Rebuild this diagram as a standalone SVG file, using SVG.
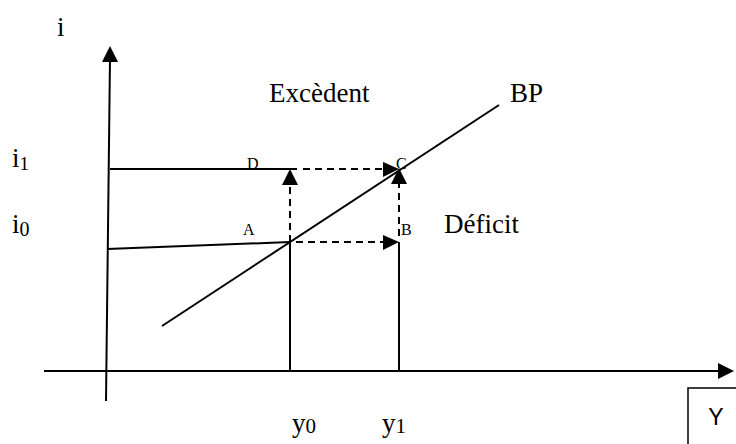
<svg xmlns="http://www.w3.org/2000/svg" width="736" height="444" viewBox="0 0 736 444">
<style>
.ln{stroke:#000;stroke-width:2;fill:none}
.ds{stroke:#000;stroke-width:2;fill:none;stroke-dasharray:7 5}
.ah{fill:#000}
.t{font-family:"Liberation Serif","Times New Roman",serif;fill:#000}
.s{font-family:"Liberation Sans",Arial,sans-serif;fill:#000}
</style>
<rect width="736" height="444" fill="#fff"/>
<g id="axes">
<line class="ln" x1="106" y1="401" x2="110" y2="58"/>
<polygon class="ah" points="110,46 102,62 118,62"/>
<line class="ln" x1="44" y1="371" x2="720" y2="371"/>
<polygon class="ah" points="734,371 718,363 718,379"/>
</g>
<g id="connectors">
<line class="ln" x1="110" y1="169" x2="297" y2="169"/>
<line class="ds" x1="303" y1="169" x2="384" y2="169"/>
<polygon class="ah" points="399,169 383,162 383,177"/>
<line class="ln" x1="107" y1="249" x2="290" y2="242"/>
<line class="ds" x1="296" y1="242" x2="384" y2="242"/>
<polygon class="ah" points="399,242 383,235 383,250"/>
<line class="ds" x1="290" y1="242" x2="290" y2="184"/>
<polygon class="ah" points="290,169 282,185 298,185"/>
<line class="ds" x1="399" y1="236" x2="399" y2="184"/>
<polygon class="ah" points="399,168 391,184 407,184"/>
<line class="ln" x1="290" y1="242" x2="290" y2="371"/>
<line class="ln" x1="399" y1="242" x2="399" y2="371"/>
<line class="ln" x1="162" y1="326" x2="499" y2="105"/>
</g>
<g id="labels">
<text class="t" x="57" y="36" font-size="27">i</text>
<text class="t" x="12" y="167" font-size="27">i<tspan font-size="19" dy="3">1</tspan></text>
<text class="t" x="12" y="233" font-size="27">i<tspan font-size="20" dy="3">0</tspan></text>
<text class="t" x="269" y="102" font-size="27">Excèdent</text>
<text class="t" x="510" y="102" font-size="27">BP</text>
<text class="t" x="444" y="233" font-size="27">Déficit</text>
<text class="t" x="247" y="169" font-size="16">D</text>
<text class="t" x="396" y="169" font-size="16">C</text>
<text class="t" x="243" y="235" font-size="16">A</text>
<text class="t" x="401" y="235" font-size="16">B</text>
<text class="t" x="292" y="432" font-size="27">y<tspan font-size="21" dy="1">0</tspan></text>
<text class="t" x="382" y="432" font-size="27">y<tspan font-size="21" dy="1">1</tspan></text>
</g>
<g id="ybox">
<rect x="688" y="388" width="60" height="70" fill="none" stroke="#000" stroke-width="1.5"/>
<text class="s" x="716" y="425" font-size="23" text-anchor="middle">Y</text>
</g>
</svg>
